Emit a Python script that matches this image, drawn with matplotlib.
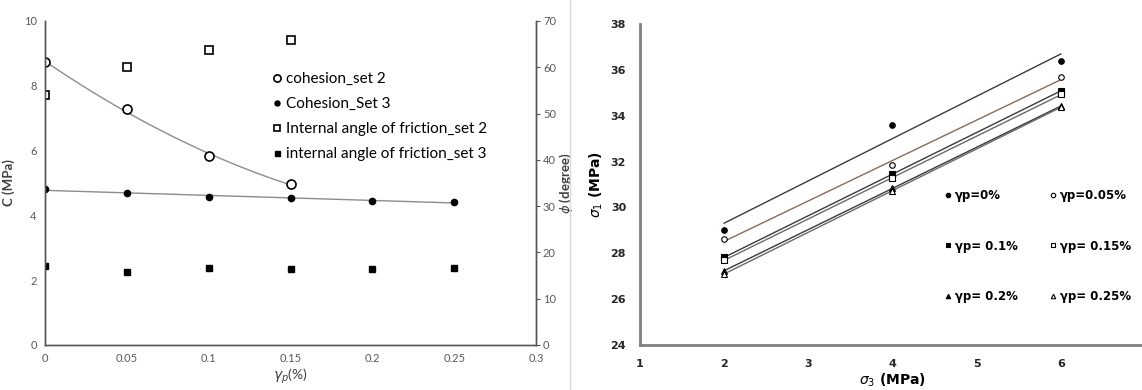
import numpy as np
import matplotlib
matplotlib.use("Agg")
import matplotlib.pyplot as plt
from matplotlib.lines import Line2D

plt.rcParams['font.family'] = ['Lato', 'DejaVu Sans']

# left panel data
gp = [0, 0.05, 0.1, 0.15, 0.2, 0.25]
coh_set2 = [8.73, 7.27, 5.83, 4.97]
coh_set3 = [4.81, 4.70, 4.56, 4.53, 4.45, 4.42]
phi_set2 = [54.1, 60.1, 63.7, 65.8]
phi_set3 = [17.1, 15.8, 16.6, 16.5, 16.5, 16.7]

# right panel data
sig3 = [2, 4, 6]
sig1 = {
    'γp=0%': [29.02, 33.59, 36.40],
    'γp=0.05%': [28.62, 31.85, 35.67],
    'γp= 0.1%': [27.82, 31.46, 35.08],
    'γp= 0.15%': [27.71, 31.27, 34.93],
    'γp= 0.2%': [27.24, 30.83, 34.42],
    'γp= 0.25%': [27.10, 30.73, 34.37],
}
styles = {
    'γp=0%': ('o', 'k', '#3a3a3a'),
    'γp=0.05%': ('o', 'w', '#8a6a58'),
    'γp= 0.1%': ('s', 'k', '#3a3a3a'),
    'γp= 0.15%': ('s', 'w', '#6a6a6a'),
    'γp= 0.2%': ('^', 'k', '#3a3a3a'),
    'γp= 0.25%': ('^', 'w', '#6a6a6a'),
}

fig = plt.figure(figsize=(11.42, 3.9), dpi=100)

# ---------- left ----------
ax = fig.add_axes([0.0394, 0.1154, 0.43, 0.8308])
ax2 = ax.twinx()

x2 = np.array(gp[:4])
c2 = np.polyfit(x2, coh_set2, 2)
xs = np.linspace(0, 0.15, 100)
ax.plot(xs, np.polyval(c2, xs), color='#8c8c8c', lw=1, zorder=1)
c3 = np.polyfit(gp, coh_set3, 1)
xs3 = np.linspace(0, 0.25, 50)
ax.plot(xs3, np.polyval(c3, xs3), color='#8c8c8c', lw=1, zorder=1)

ax.plot(gp[:4], coh_set2, 'o', mfc='w', mec='k', mew=1.2, ms=6.5, label='cohesion_set 2')
ax.plot(gp, coh_set3, 'o', color='k', ms=4.5, label='Cohesion_Set 3')
ax2.plot(gp[:4], phi_set2, 's', mfc='w', mec='k', mew=1.2, ms=5.8, label='Internal angle of friction_set 2')
ax2.plot(gp, phi_set3, 's', color='k', ms=4.5, label='internal angle of friction_set 3')

ax.set_xlim(0, 0.3)
ax.set_ylim(0, 10)
ax2.set_ylim(0, 70)
ax.set_xticks([0, 0.05, 0.1, 0.15, 0.2, 0.25, 0.3])
ax.set_xticklabels(['0', '0.05', '0.1', '0.15', '0.2', '0.25', '0.3'])
ax.set_yticks(range(0, 11, 2))
ax2.set_yticks(range(0, 71, 10))
for a in (ax, ax2):
    a.spines['top'].set_visible(False)
    for s in a.spines.values():
        s.set_color('#555555')
        s.set_linewidth(1)
    a.tick_params(length=0, labelsize=8, colors='#595959', pad=6)
ax2.tick_params(axis='y', length=3, color='#555555', pad=2)

ax.set_ylabel('C (MPa)', fontsize=9.5, fontweight='bold', color='#404040', labelpad=6)
ax2.set_ylabel(r'$\phi$ (degree)', fontsize=9.5, fontweight='bold', color='#404040', labelpad=1)
ax.set_xlabel(r'$\gamma_p$(%)', fontsize=10, color='#404040', labelpad=2)

h1, l1 = ax.get_legend_handles_labels()
h2, l2 = ax2.get_legend_handles_labels()
ax.legend(h1 + h2, l1 + l2, loc='upper left', bbox_to_anchor=(0.445, 0.865),
          frameon=False, fontsize=11, handletextpad=0.15, labelspacing=0.72,
          handlelength=0.8, borderpad=0, markerscale=0.8)

# separator
fig.add_artist(Line2D([0.4995, 0.4995], [0.0, 1.0], color='#d9d9d9', lw=1))

# ---------- right ----------
bfont = ['DejaVu Sans']
bx = fig.add_axes([0.5604, 0.1154, 0.4422, 0.823])
handles = {}
for name, vals in sig1.items():
    m, fc, lc = styles[name]
    k = np.polyfit(sig3, vals, 1)
    xl = np.array([2, 6])
    bx.plot(xl, np.polyval(k, xl), color=lc, lw=1, zorder=1)
    h, = bx.plot(sig3, vals, m, mfc=fc, mec='k', mew=0.8, ms=4, ls='none', label=name, zorder=2)
    handles[name] = h

order = ['γp=0%', 'γp= 0.1%', 'γp= 0.2%', 'γp=0.05%', 'γp= 0.15%', 'γp= 0.25%']
bx.legend([handles[n] for n in order], order, ncol=2, loc='upper left',
          bbox_to_anchor=(0.588, 0.505), frameon=False,
          prop={'family': bfont, 'weight': 'bold', 'size': 8.5},
          labelspacing=3.2, columnspacing=2.6, handletextpad=0.2, handlelength=0.8,
          borderpad=0, markerscale=0.8)

bx.set_xlim(1, 7)
bx.set_ylim(24, 38)
bx.set_xticks([1, 2, 3, 4, 5, 6])
bx.set_yticks(range(24, 39, 2))
bx.spines['top'].set_visible(False)
bx.spines['right'].set_visible(False)
for s in ('left', 'bottom'):
    bx.spines[s].set_color('#7f7f7f')
    bx.spines[s].set_linewidth(2)
bx.tick_params(length=0, labelsize=8, pad=10)
for t in bx.get_xticklabels() + bx.get_yticklabels():
    t.set_fontweight('bold')
    t.set_family(bfont)
    t.set_color('#262626')
bx.set_ylabel(r'$\sigma_1$ (MPa)', fontsize=10, fontweight='bold', family=bfont, labelpad=4)
bx.set_xlabel(r'$\sigma_3$ (MPa)', fontsize=10, fontweight='bold', family=bfont, labelpad=2)

plt.savefig('out.png', dpi=100)
